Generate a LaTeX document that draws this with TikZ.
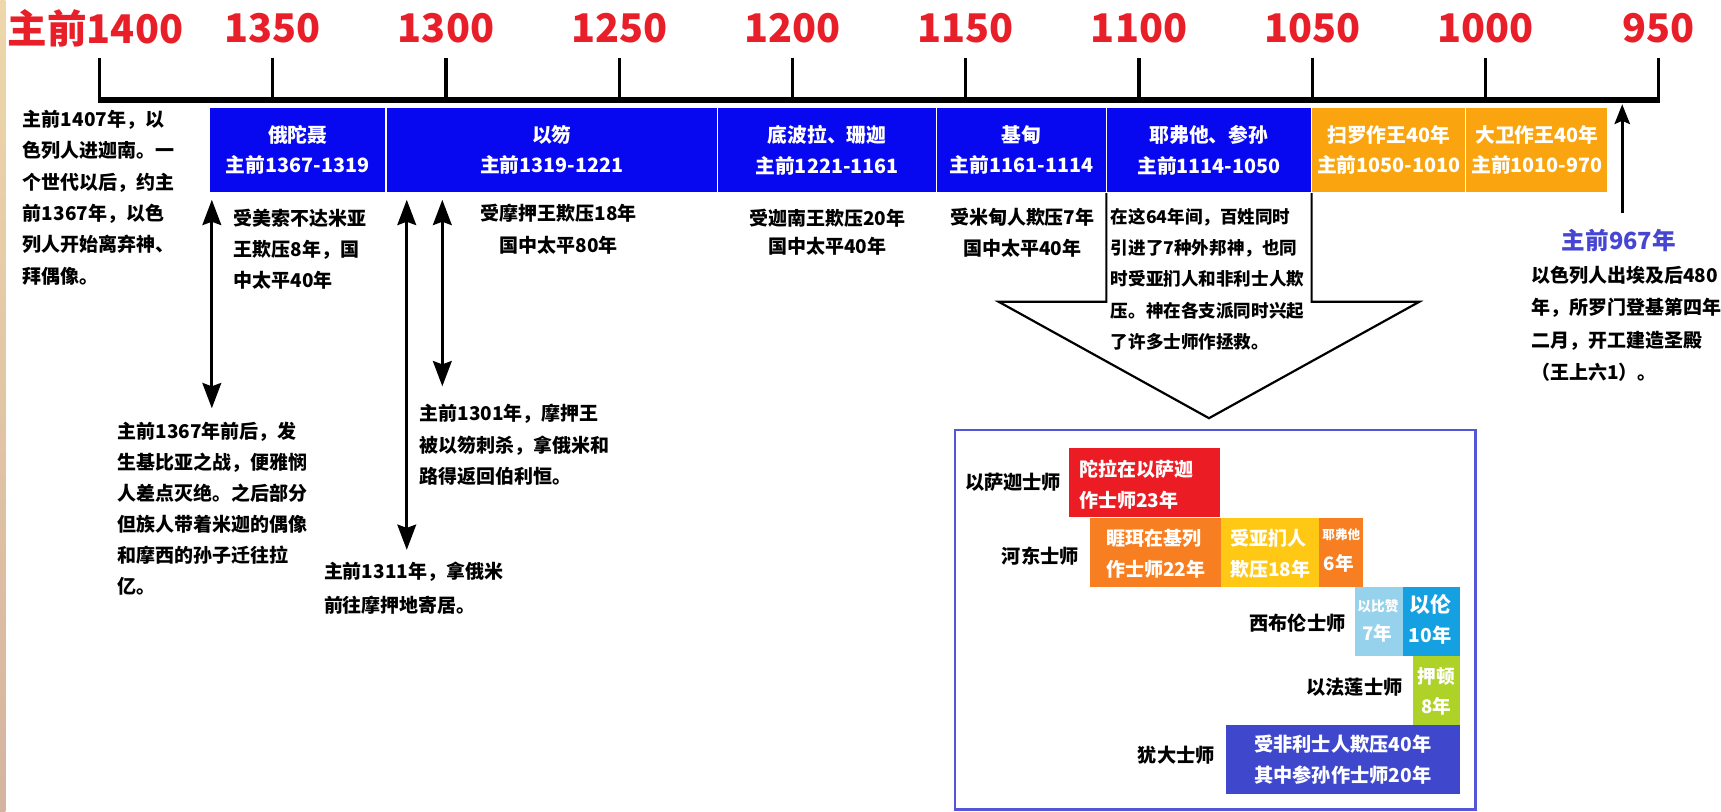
\documentclass[tikz,border=0pt]{standalone}
\usepackage{fontspec}
\setmainfont{Noto Sans CJK SC}
\usetikzlibrary{arrows.meta}
\definecolor{tlred}{RGB}{232,30,40}
\definecolor{tlblue}{RGB}{8,8,240}
\definecolor{tlorange}{RGB}{250,165,15}
\definecolor{bdblue}{RGB}{85,85,215}
\definecolor{yrblue}{RGB}{70,70,210}
\definecolor{jred}{RGB}{236,28,36}
\definecolor{jorange}{RGB}{247,127,34}
\definecolor{jyellow}{RGB}{255,200,20}
\definecolor{jlblue}{RGB}{150,210,235}
\definecolor{jblue}{RGB}{20,160,225}
\definecolor{jgreen}{RGB}{175,210,40}
\definecolor{jdblue}{RGB}{63,72,204}
\definecolor{beigeA}{RGB}{238,215,170}
\definecolor{beigeB}{RGB}{242,222,165}
\definecolor{beigeC}{RGB}{212,180,160}
\newcommand\myfs[2]{\fontsize{#1pt}{#2pt}\selectfont}
\begin{document}
\begin{tikzpicture}[x=1pt,y=-1pt,
  hdr/.style={text=tlred,font=\bfseries\myfs{36}{40},inner sep=0},
  tickln/.style={line width=3pt},
  axisln/.style={line width=6pt},
  blk/.style={fill=tlblue,draw=white,line width=1pt,text=white,font=\bfseries\myfs{18}{28},align=center,inner sep=0,minimum height=77.7pt},
  oblk/.style={blk,fill=tlorange},
  note/.style={font=\bfseries\myfs{17.3}{28.6},align=left,inner sep=0,anchor=north west},
  cnote/.style={note,align=center,anchor=north},
  dbl/.style={line width=3pt,{Stealth[length=23pt,width=17pt,inset=3pt]}-{Stealth[length=23pt,width=17pt,inset=3pt]}},
  sgl/.style={line width=2.5pt,-{Stealth[length=18pt,width=14pt,inset=3pt]}},
  jbox/.style={inner sep=0,outer sep=0,draw=none},
  wtxt/.style={text=white,font=\bfseries\myfs{17.3}{28.6},align=left,inner sep=0},
  lbl/.style={font=\bfseries\myfs{17.5}{20},inner sep=0,anchor=east}
]
\useasboundingbox (0,0) rectangle (1568,739);
\shade[top color=beigeA,middle color=beigeB,bottom color=beigeC] (0,0) rectangle (5,739);

% header labels and ticks
\node[hdr,anchor=west] (lab0) at (7,25.75) {主前1400};
\foreach \i/\lab in {1/1350,2/1300,3/1250,4/1200,5/1150,6/1100,7/1050,8/1000,9/950}{
  \pgfmathsetmacro\xx{90.7+157.85*\i}
  \node[hdr] (lab\i) at (\xx,25.75) {\lab};
}
\foreach \i in {0,...,9}{
  \pgfmathsetmacro\xx{90.7+157.85*\i}
  \draw[tickln] (\xx,53) -- (\xx,91);
}
\draw[axisln] (89.2,91) -- (1512.8,91);

% block arrow behind Jephthah box
\draw[line width=2pt,fill=white,line join=miter] (1008,170) -- (1008,275) -- (910,275) -- (1101.5,381) -- (1293,275) -- (1195,275) -- (1195,170);

% timeline boxes
\node[blk,minimum width=161pt] (otn) at (271.2,136.65) {俄陀聂\\主前1367-1319};
\node[blk,minimum width=302pt] (ehud) at (502.7,136.65) {以笏\\主前1319-1221};
\node[blk,minimum width=199.8pt] (deb) at (753.6,136.65) {底波拉、珊迦\\主前1221-1161};
\node[blk,minimum width=154.5pt] (gid) at (930.75,136.65) {基甸\\主前1161-1114};
\node[blk,minimum width=187pt] (jep) at (1101.5,136.65) {耶弗他、参孙\\主前1114-1050};
\node[oblk,minimum width=140.5pt] (saul) at (1265.25,136.65) {扫罗作王40年\\主前1050-1010};
\node[oblk,minimum width=129.5pt] (david) at (1400.25,136.65) {大卫作王40年\\主前1010-970};

% notes
\node[note] (left) at (20.7,100) {主前1407年，以\\色列人进迦南。一\\个世代以后，约主\\前1367年，以色\\列人开始离弃神、\\拜偶像。};
\node[note] (otnt) at (212.6,190) {受美索不达米亚\\王欺压8年，国\\中太平40年};
\node[cnote] (ehudt) at (509,186) {受摩押王欺压18年\\国中太平80年};
\node[cnote,font=\bfseries\myfs{17.3}{25.5}] (debt) at (753.6,190.5) {受迦南王欺压20年\\国中太平40年};
\node[cnote] (gidt) at (931.4,189) {受米甸人欺压7年\\国中太平40年};
\node[note,font=\bfseries\myfs{16}{28.5}] (jept) at (1012,189.5) {在这64年间，百姓同时\\引进了7种外邦神，也同\\时受亚扪人和非利士人欺\\压。神在各支派同时兴起\\了许多士师作拯救。};
\node[inner sep=0,text=yrblue,font=\bfseries\myfs{21.5}{24}] (y967) at (1475,219) {主前967年};
\node[note,font=\bfseries\myfs{17.3}{29.5}] (right) at (1395,242) {以色列人出埃及后480\\年，所罗门登基第四年\\二月，开工建造圣殿\\（王上六1）。};
\node[note,font=\bfseries\myfs{17.3}{28.4}] (n1367) at (107,384) {主前1367年前后，发\\生基比亚之战，便雅悯\\人差点灭绝。之后部分\\但族人带着米迦的偶像\\和摩西的孙子迁往拉\\亿。};
\node[note,font=\bfseries\myfs{17.3}{28.8}] (n1301) at (382,368) {主前1301年，摩押王\\被以笏刺杀，拿俄米和\\路得返回伯利恒。};
\node[note,font=\bfseries\myfs{17.3}{31}] (n1311) at (295,511.5) {主前1311年，拿俄米\\前往摩押地寄居。};

% arrows
\coordinate (a1t) at (193,182);
\coordinate (a1b) at (193,372);
\coordinate (a2t) at (370.6,182);
\coordinate (a2b) at (370.6,501);
\coordinate (a3t) at (403,182);
\coordinate (a3b) at (403,352);
\coordinate (art) at (1478,95);
\coordinate (arb) at (1478,194);
\draw[dbl] (a1t) -- (a1b);
\draw[dbl] (a2t) -- (a2b);
\draw[dbl] (a3t) -- (a3b);
\draw[sgl] (arb) -- (art);

% judges frame
\node[draw=bdblue,line width=2.5pt,minimum width=474.5pt,minimum height=345.7pt,inner sep=0] (frame) at (1107.25,564.65) {};
\node[jbox,fill=jred,minimum width=138.3pt,minimum height=62.8pt] (rbox) at (1042.75,439.9) {};
\node[jbox,fill=jorange,minimum width=119.6pt,minimum height=63pt] (obox) at (1052.8,503) {};
\node[jbox,fill=jyellow,minimum width=89.4pt,minimum height=63pt] (ybox) at (1157.3,503) {};
\node[jbox,fill=jorange,minimum width=39.4pt,minimum height=63pt] (sbox) at (1221.7,503) {};
\node[jbox,fill=jlblue,minimum width=43.3pt,minimum height=63.2pt] (lbbox) at (1256.15,566.1) {};
\node[jbox,fill=jblue,minimum width=52.2pt,minimum height=63.2pt] (bbox) at (1303.9,566.1) {};
\node[jbox,fill=jgreen,minimum width=43pt,minimum height=62.8pt] (gbox) at (1308.5,629.1) {};
\node[jbox,fill=jdblue,minimum width=213.3pt,minimum height=63.2pt] (dbox) at (1223.35,692.1) {};

\node[wtxt,anchor=west] (rtxt) at ([xshift=9.4pt,yshift=-1.5pt]rbox.west) {陀拉在以萨迦\\作士师23年};
\node[wtxt,anchor=west] (otxt) at ([xshift=14.7pt,yshift=-1.5pt]obox.west) {睚珥在基列\\作士师22年};
\node[wtxt,anchor=west] (ytxt) at ([xshift=8pt,yshift=-1.5pt]ybox.west) {受亚扪人\\欺压18年};
\node[text=white,inner sep=0,font=\bfseries\myfs{11.4}{12}] (stxt1) at (1222,487.4) {耶弗他};
\node[text=white,inner sep=0,font=\bfseries\myfs{17}{20},anchor=west] (stxt2) at (1206,513.3) {6年};
\node[text=white,inner sep=0,font=\bfseries\myfs{12.5}{14}] (lbtxt1) at (1255.5,552.7) {以比赞};
\node[text=white,inner sep=0,font=\bfseries\myfs{17}{20}] (lbtxt2) at (1255,577) {7年};
\node[text=white,inner sep=0,font=\bfseries\myfs{19}{20}] (btxt1) at (1303,551.2) {以伦};
\node[text=white,inner sep=0,font=\bfseries\myfs{17.5}{20}] (btxt2) at (1303,578.5) {10年};
\node[text=white,inner sep=0,font=\bfseries\myfs{17}{20}] (gtxt1) at (1308.5,616.5) {押顿};
\node[text=white,inner sep=0,font=\bfseries\myfs{17}{20}] (gtxt2) at (1308.5,643.8) {8年};
\node[wtxt,align=center,font=\bfseries\myfs{17.5}{28.8}] (dtxt) at (dbox.center) {受非利士人欺压40年\\其中参孙作士师20年};

\node[lbl] (l1) at (967,439) {以萨迦士师};
\node[lbl] (l2) at (983,507) {河东士师};
\node[lbl] (l3) at (1226,568) {西布伦士师};
\node[lbl] (l4) at (1278,626) {以法莲士师};
\node[lbl] (l5) at (1107,688) {犹大士师};
\end{tikzpicture}
\end{document}
